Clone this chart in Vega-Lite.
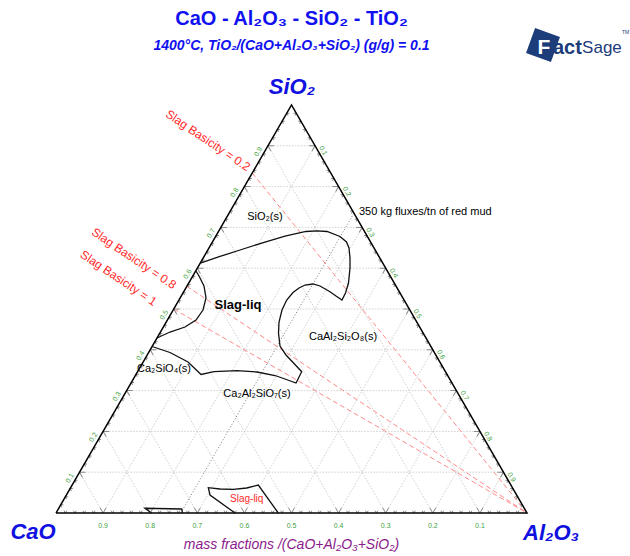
{
  "$schema": "https://vega.github.io/schema/vega-lite/v6.json",
  "width": 471,
  "height": 408,
  "autosize": "none",
  "padding": {"left": 56, "top": 105, "right": 103, "bottom": 43},
  "background": "white",
  "config": {"view": {"stroke": null}, "font": "Liberation Sans"},
  "datasets": {
    "grid": [
      {"x": 0.05, "y": 0.1, "x2": 0.95, "y2": 0.1},
      {"x": 0.1, "y": 0.2, "x2": 0.9, "y2": 0.2},
      {"x": 0.15, "y": 0.3, "x2": 0.85, "y2": 0.3},
      {"x": 0.2, "y": 0.4, "x2": 0.8, "y2": 0.4},
      {"x": 0.25, "y": 0.5, "x2": 0.75, "y2": 0.5},
      {"x": 0.3, "y": 0.6, "x2": 0.7, "y2": 0.6},
      {"x": 0.35, "y": 0.7, "x2": 0.65, "y2": 0.7},
      {"x": 0.4, "y": 0.8, "x2": 0.6, "y2": 0.8},
      {"x": 0.45, "y": 0.9, "x2": 0.55, "y2": 0.9},
      {"x": 0.1, "y": 0, "x2": 0.05, "y2": 0.1},
      {"x": 0.2, "y": 0, "x2": 0.1, "y2": 0.2},
      {"x": 0.3, "y": 0, "x2": 0.15, "y2": 0.3},
      {"x": 0.4, "y": 0, "x2": 0.2, "y2": 0.4},
      {"x": 0.5, "y": 0, "x2": 0.25, "y2": 0.5},
      {"x": 0.6, "y": 0, "x2": 0.3, "y2": 0.6},
      {"x": 0.7, "y": 0, "x2": 0.35, "y2": 0.7},
      {"x": 0.8, "y": 0, "x2": 0.4, "y2": 0.8},
      {"x": 0.9, "y": 0, "x2": 0.45, "y2": 0.9},
      {"x": 0.1, "y": 0, "x2": 0.55, "y2": 0.9},
      {"x": 0.2, "y": 0, "x2": 0.6, "y2": 0.8},
      {"x": 0.3, "y": 0, "x2": 0.65, "y2": 0.7},
      {"x": 0.4, "y": 0, "x2": 0.7, "y2": 0.6},
      {"x": 0.5, "y": 0, "x2": 0.75, "y2": 0.5},
      {"x": 0.6, "y": 0, "x2": 0.8, "y2": 0.4},
      {"x": 0.7, "y": 0, "x2": 0.85, "y2": 0.3},
      {"x": 0.8, "y": 0, "x2": 0.9, "y2": 0.2},
      {"x": 0.9, "y": 0, "x2": 0.95, "y2": 0.1}
    ],
    "basicity": [
      {"b": "0.2", "x": 0.4167, "y": 0.8333},
      {"b": "0.8", "x": 0.2778, "y": 0.5556},
      {"b": "1", "x": 0.25, "y": 0.5}
    ],
    "boundaries": [
      {"c": "liq", "i": 1, "x": 0.3064, "y": 0.6127},
      {"c": "liq", "i": 2, "x": 0.3482, "y": 0.6287},
      {"c": "liq", "i": 3, "x": 0.3907, "y": 0.6446},
      {"c": "liq", "i": 4, "x": 0.4437, "y": 0.6642},
      {"c": "liq", "i": 5, "x": 0.4862, "y": 0.6789},
      {"c": "liq", "i": 6, "x": 0.5308, "y": 0.6900},
      {"c": "liq", "i": 7, "x": 0.5541, "y": 0.6917},
      {"c": "liq", "i": 8, "x": 0.5754, "y": 0.6900},
      {"c": "liq", "i": 9, "x": 0.6030, "y": 0.6777},
      {"c": "liq", "i": 10, "x": 0.6168, "y": 0.6642},
      {"c": "liq", "i": 11, "x": 0.6221, "y": 0.6495},
      {"c": "liq", "i": 12, "x": 0.6242, "y": 0.6250},
      {"c": "liq", "i": 13, "x": 0.6242, "y": 0.6005},
      {"c": "liq", "i": 14, "x": 0.6210, "y": 0.5637},
      {"c": "liq", "i": 15, "x": 0.6146, "y": 0.5392},
      {"c": "liq", "i": 16, "x": 0.6072, "y": 0.5221},
      {"c": "liq", "i": 17, "x": 0.5945, "y": 0.5319},
      {"c": "liq", "i": 18, "x": 0.5817, "y": 0.5424},
      {"c": "liq", "i": 19, "x": 0.5605, "y": 0.5564},
      {"c": "liq", "i": 20, "x": 0.5456, "y": 0.5613},
      {"c": "liq", "i": 21, "x": 0.5287, "y": 0.5588},
      {"c": "liq", "i": 22, "x": 0.5159, "y": 0.5515},
      {"c": "liq", "i": 23, "x": 0.5032, "y": 0.5404},
      {"c": "liq", "i": 24, "x": 0.4898, "y": 0.5221},
      {"c": "liq", "i": 25, "x": 0.4798, "y": 0.4975},
      {"c": "liq", "i": 26, "x": 0.4735, "y": 0.4681},
      {"c": "liq", "i": 27, "x": 0.4724, "y": 0.4412},
      {"c": "liq", "i": 28, "x": 0.4756, "y": 0.4093},
      {"c": "liq", "i": 29, "x": 0.4883, "y": 0.3873},
      {"c": "liq", "i": 30, "x": 0.5053, "y": 0.3664},
      {"c": "liq", "i": 31, "x": 0.5217, "y": 0.3463},
      {"c": "liq", "i": 32, "x": 0.5096, "y": 0.3186},
      {"c": "liq", "i": 33, "x": 0.4862, "y": 0.3284},
      {"c": "liq", "i": 34, "x": 0.4650, "y": 0.3370},
      {"c": "liq", "i": 35, "x": 0.4268, "y": 0.3456},
      {"c": "liq", "i": 36, "x": 0.3843, "y": 0.3488},
      {"c": "liq", "i": 37, "x": 0.3355, "y": 0.3463},
      {"c": "liq", "i": 38, "x": 0.3079, "y": 0.3395},
      {"c": "liq", "i": 39, "x": 0.2803, "y": 0.3701},
      {"c": "liq", "i": 40, "x": 0.2420, "y": 0.3934},
      {"c": "liq", "i": 41, "x": 0.2040, "y": 0.4081},
      {"c": "pocket", "i": 1, "x": 0.2144, "y": 0.4289},
      {"c": "pocket", "i": 2, "x": 0.2420, "y": 0.4436},
      {"c": "pocket", "i": 3, "x": 0.2739, "y": 0.4559},
      {"c": "pocket", "i": 4, "x": 0.2972, "y": 0.4730},
      {"c": "pocket", "i": 5, "x": 0.3121, "y": 0.4975},
      {"c": "pocket", "i": 6, "x": 0.3185, "y": 0.5270},
      {"c": "pocket", "i": 7, "x": 0.3142, "y": 0.5564},
      {"c": "pocket", "i": 8, "x": 0.3036, "y": 0.5809},
      {"c": "pocket", "i": 9, "x": 0.2972, "y": 0.5931},
      {"c": "lowliq", "i": 1, "x": 0.3800, "y": 0},
      {"c": "lowliq", "i": 2, "x": 0.3270, "y": 0.0441},
      {"c": "lowliq", "i": 3, "x": 0.3234, "y": 0.0620},
      {"c": "lowliq", "i": 4, "x": 0.3482, "y": 0.0588},
      {"c": "lowliq", "i": 5, "x": 0.3764, "y": 0.0581},
      {"c": "lowliq", "i": 6, "x": 0.4049, "y": 0.0613},
      {"c": "lowliq", "i": 7, "x": 0.4295, "y": 0.0686},
      {"c": "lowliq", "i": 8, "x": 0.4720, "y": 0},
      {"c": "sliver", "i": 1, "x": 0.2028, "y": 0},
      {"c": "sliver", "i": 2, "x": 0.1890, "y": 0.0115},
      {"c": "sliver", "i": 3, "x": 0.2669, "y": 0.0098},
      {"c": "sliver", "i": 4, "x": 0.2686, "y": 0}
    ],
    "ticksBottom": [
      {"x": 0.02, "y": 0, "t": "minor"}, {"x": 0.04, "y": 0, "t": "minor"}, {"x": 0.06, "y": 0, "t": "minor"}, {"x": 0.08, "y": 0, "t": "minor"}, {"x": 0.1, "y": 0, "t": "major"},
      {"x": 0.12, "y": 0, "t": "minor"}, {"x": 0.14, "y": 0, "t": "minor"}, {"x": 0.16, "y": 0, "t": "minor"}, {"x": 0.18, "y": 0, "t": "minor"}, {"x": 0.2, "y": 0, "t": "major"},
      {"x": 0.22, "y": 0, "t": "minor"}, {"x": 0.24, "y": 0, "t": "minor"}, {"x": 0.26, "y": 0, "t": "minor"}, {"x": 0.28, "y": 0, "t": "minor"}, {"x": 0.3, "y": 0, "t": "major"},
      {"x": 0.32, "y": 0, "t": "minor"}, {"x": 0.34, "y": 0, "t": "minor"}, {"x": 0.36, "y": 0, "t": "minor"}, {"x": 0.38, "y": 0, "t": "minor"}, {"x": 0.4, "y": 0, "t": "major"},
      {"x": 0.42, "y": 0, "t": "minor"}, {"x": 0.44, "y": 0, "t": "minor"}, {"x": 0.46, "y": 0, "t": "minor"}, {"x": 0.48, "y": 0, "t": "minor"}, {"x": 0.5, "y": 0, "t": "major"},
      {"x": 0.52, "y": 0, "t": "minor"}, {"x": 0.54, "y": 0, "t": "minor"}, {"x": 0.56, "y": 0, "t": "minor"}, {"x": 0.58, "y": 0, "t": "minor"}, {"x": 0.6, "y": 0, "t": "major"},
      {"x": 0.62, "y": 0, "t": "minor"}, {"x": 0.64, "y": 0, "t": "minor"}, {"x": 0.66, "y": 0, "t": "minor"}, {"x": 0.68, "y": 0, "t": "minor"}, {"x": 0.7, "y": 0, "t": "major"},
      {"x": 0.72, "y": 0, "t": "minor"}, {"x": 0.74, "y": 0, "t": "minor"}, {"x": 0.76, "y": 0, "t": "minor"}, {"x": 0.78, "y": 0, "t": "minor"}, {"x": 0.8, "y": 0, "t": "major"},
      {"x": 0.82, "y": 0, "t": "minor"}, {"x": 0.84, "y": 0, "t": "minor"}, {"x": 0.86, "y": 0, "t": "minor"}, {"x": 0.88, "y": 0, "t": "minor"}, {"x": 0.9, "y": 0, "t": "major"},
      {"x": 0.92, "y": 0, "t": "minor"}, {"x": 0.94, "y": 0, "t": "minor"}, {"x": 0.96, "y": 0, "t": "minor"}, {"x": 0.98, "y": 0, "t": "minor"}
    ],
    "ticksLeft": [
      {"x": 0.01, "y": 0.02, "t": "minor"}, {"x": 0.02, "y": 0.04, "t": "minor"}, {"x": 0.03, "y": 0.06, "t": "minor"}, {"x": 0.04, "y": 0.08, "t": "minor"}, {"x": 0.05, "y": 0.1, "t": "major"},
      {"x": 0.06, "y": 0.12, "t": "minor"}, {"x": 0.07, "y": 0.14, "t": "minor"}, {"x": 0.08, "y": 0.16, "t": "minor"}, {"x": 0.09, "y": 0.18, "t": "minor"}, {"x": 0.1, "y": 0.2, "t": "major"},
      {"x": 0.11, "y": 0.22, "t": "minor"}, {"x": 0.12, "y": 0.24, "t": "minor"}, {"x": 0.13, "y": 0.26, "t": "minor"}, {"x": 0.14, "y": 0.28, "t": "minor"}, {"x": 0.15, "y": 0.3, "t": "major"},
      {"x": 0.16, "y": 0.32, "t": "minor"}, {"x": 0.17, "y": 0.34, "t": "minor"}, {"x": 0.18, "y": 0.36, "t": "minor"}, {"x": 0.19, "y": 0.38, "t": "minor"}, {"x": 0.2, "y": 0.4, "t": "major"},
      {"x": 0.21, "y": 0.42, "t": "minor"}, {"x": 0.22, "y": 0.44, "t": "minor"}, {"x": 0.23, "y": 0.46, "t": "minor"}, {"x": 0.24, "y": 0.48, "t": "minor"}, {"x": 0.25, "y": 0.5, "t": "major"},
      {"x": 0.26, "y": 0.52, "t": "minor"}, {"x": 0.27, "y": 0.54, "t": "minor"}, {"x": 0.28, "y": 0.56, "t": "minor"}, {"x": 0.29, "y": 0.58, "t": "minor"}, {"x": 0.3, "y": 0.6, "t": "major"},
      {"x": 0.31, "y": 0.62, "t": "minor"}, {"x": 0.32, "y": 0.64, "t": "minor"}, {"x": 0.33, "y": 0.66, "t": "minor"}, {"x": 0.34, "y": 0.68, "t": "minor"}, {"x": 0.35, "y": 0.7, "t": "major"},
      {"x": 0.36, "y": 0.72, "t": "minor"}, {"x": 0.37, "y": 0.74, "t": "minor"}, {"x": 0.38, "y": 0.76, "t": "minor"}, {"x": 0.39, "y": 0.78, "t": "minor"}, {"x": 0.4, "y": 0.8, "t": "major"},
      {"x": 0.41, "y": 0.82, "t": "minor"}, {"x": 0.42, "y": 0.84, "t": "minor"}, {"x": 0.43, "y": 0.86, "t": "minor"}, {"x": 0.44, "y": 0.88, "t": "minor"}, {"x": 0.45, "y": 0.9, "t": "major"},
      {"x": 0.46, "y": 0.92, "t": "minor"}, {"x": 0.47, "y": 0.94, "t": "minor"}, {"x": 0.48, "y": 0.96, "t": "minor"}, {"x": 0.49, "y": 0.98, "t": "minor"}
    ],
    "ticksRight": [
      {"x": 0.51, "y": 0.98, "t": "minor"}, {"x": 0.52, "y": 0.96, "t": "minor"}, {"x": 0.53, "y": 0.94, "t": "minor"}, {"x": 0.54, "y": 0.92, "t": "minor"}, {"x": 0.55, "y": 0.9, "t": "major"},
      {"x": 0.56, "y": 0.88, "t": "minor"}, {"x": 0.57, "y": 0.86, "t": "minor"}, {"x": 0.58, "y": 0.84, "t": "minor"}, {"x": 0.59, "y": 0.82, "t": "minor"}, {"x": 0.6, "y": 0.8, "t": "major"},
      {"x": 0.61, "y": 0.78, "t": "minor"}, {"x": 0.62, "y": 0.76, "t": "minor"}, {"x": 0.63, "y": 0.74, "t": "minor"}, {"x": 0.64, "y": 0.72, "t": "minor"}, {"x": 0.65, "y": 0.7, "t": "major"},
      {"x": 0.66, "y": 0.68, "t": "minor"}, {"x": 0.67, "y": 0.66, "t": "minor"}, {"x": 0.68, "y": 0.64, "t": "minor"}, {"x": 0.69, "y": 0.62, "t": "minor"}, {"x": 0.7, "y": 0.6, "t": "major"},
      {"x": 0.71, "y": 0.58, "t": "minor"}, {"x": 0.72, "y": 0.56, "t": "minor"}, {"x": 0.73, "y": 0.54, "t": "minor"}, {"x": 0.74, "y": 0.52, "t": "minor"}, {"x": 0.75, "y": 0.5, "t": "major"},
      {"x": 0.76, "y": 0.48, "t": "minor"}, {"x": 0.77, "y": 0.46, "t": "minor"}, {"x": 0.78, "y": 0.44, "t": "minor"}, {"x": 0.79, "y": 0.42, "t": "minor"}, {"x": 0.8, "y": 0.4, "t": "major"},
      {"x": 0.81, "y": 0.38, "t": "minor"}, {"x": 0.82, "y": 0.36, "t": "minor"}, {"x": 0.83, "y": 0.34, "t": "minor"}, {"x": 0.84, "y": 0.32, "t": "minor"}, {"x": 0.85, "y": 0.3, "t": "major"},
      {"x": 0.86, "y": 0.28, "t": "minor"}, {"x": 0.87, "y": 0.26, "t": "minor"}, {"x": 0.88, "y": 0.24, "t": "minor"}, {"x": 0.89, "y": 0.22, "t": "minor"}, {"x": 0.9, "y": 0.2, "t": "major"},
      {"x": 0.91, "y": 0.18, "t": "minor"}, {"x": 0.92, "y": 0.16, "t": "minor"}, {"x": 0.93, "y": 0.14, "t": "minor"}, {"x": 0.94, "y": 0.12, "t": "minor"}, {"x": 0.95, "y": 0.1, "t": "major"},
      {"x": 0.96, "y": 0.08, "t": "minor"}, {"x": 0.97, "y": 0.06, "t": "minor"}, {"x": 0.98, "y": 0.04, "t": "minor"}, {"x": 0.99, "y": 0.02, "t": "minor"}
    ],
    "labelsBottom": [
      {"x": 0.1, "y": 0, "v": "0.9"}, {"x": 0.2, "y": 0, "v": "0.8"}, {"x": 0.3, "y": 0, "v": "0.7"},
      {"x": 0.4, "y": 0, "v": "0.6"}, {"x": 0.5, "y": 0, "v": "0.5"}, {"x": 0.6, "y": 0, "v": "0.4"},
      {"x": 0.7, "y": 0, "v": "0.3"}, {"x": 0.8, "y": 0, "v": "0.2"}, {"x": 0.9, "y": 0, "v": "0.1"}
    ],
    "labelsLeft": [
      {"x": 0.05, "y": 0.1, "v": "0.1"}, {"x": 0.1, "y": 0.2, "v": "0.2"}, {"x": 0.15, "y": 0.3, "v": "0.3"},
      {"x": 0.2, "y": 0.4, "v": "0.4"}, {"x": 0.25, "y": 0.5, "v": "0.5"}, {"x": 0.3, "y": 0.6, "v": "0.6"},
      {"x": 0.35, "y": 0.7, "v": "0.7"}, {"x": 0.4, "y": 0.8, "v": "0.8"}, {"x": 0.45, "y": 0.9, "v": "0.9"}
    ],
    "labelsRight": [
      {"x": 0.55, "y": 0.9, "v": "0.1"}, {"x": 0.6, "y": 0.8, "v": "0.2"}, {"x": 0.65, "y": 0.7, "v": "0.3"},
      {"x": 0.7, "y": 0.6, "v": "0.4"}, {"x": 0.75, "y": 0.5, "v": "0.5"}, {"x": 0.8, "y": 0.4, "v": "0.6"},
      {"x": 0.85, "y": 0.3, "v": "0.7"}, {"x": 0.9, "y": 0.2, "v": "0.8"}, {"x": 0.95, "y": 0.1, "v": "0.9"}
    ]
  },
  "encoding": {
    "x": {"field": "x", "type": "quantitative", "scale": {"domain": [0, 1], "nice": false, "zero": false}, "axis": null},
    "y": {"field": "y", "type": "quantitative", "scale": {"domain": [0, 1], "nice": false, "zero": false}, "axis": null}
  },
  "layer": [
    {
      "data": {"name": "grid"},
      "mark": {"type": "rule", "stroke": "#c4c4c4", "strokeWidth": 0.8, "strokeDash": [1.5, 1.5]},
      "encoding": {"x2": {"field": "x2"}, "y2": {"field": "y2"}}
    },
    {
      "data": {"name": "basicity"},
      "mark": {"type": "rule", "stroke": "#ff8a8a", "strokeWidth": 1, "strokeDash": [5, 3]},
      "encoding": {"x2": {"datum": 1}, "y2": {"datum": 0}}
    },
    {
      "data": {"values": [{"x": 0.265, "y": 0, "x2": 0.6325, "y2": 0.735}]},
      "mark": {"type": "rule", "stroke": "#555555", "strokeWidth": 0.8, "strokeDash": [1, 2]},
      "encoding": {"x2": {"field": "x2"}, "y2": {"field": "y2"}}
    },
    {
      "data": {"name": "ticksBottom"},
      "mark": {"type": "point", "shape": "M -0.5 -0.866 L 0 0 L 0.5 -0.866", "filled": false, "stroke": "#8c8c8c", "strokeWidth": 1, "opacity": 1, "angle": 0},
      "encoding": {"size": {"field": "t", "type": "nominal", "scale": {"domain": ["major", "minor"], "range": [144, 30]}, "legend": null}}
    },
    {
      "data": {"name": "ticksLeft"},
      "mark": {"type": "point", "shape": "M -0.5 -0.866 L 0 0 L 0.5 -0.866", "filled": false, "stroke": "#8c8c8c", "strokeWidth": 1, "opacity": 1, "angle": 120},
      "encoding": {"size": {"field": "t", "type": "nominal", "scale": {"domain": ["major", "minor"], "range": [144, 30]}, "legend": null}}
    },
    {
      "data": {"name": "ticksRight"},
      "mark": {"type": "point", "shape": "M -0.5 -0.866 L 0 0 L 0.5 -0.866", "filled": false, "stroke": "#8c8c8c", "strokeWidth": 1, "opacity": 1, "angle": 240},
      "encoding": {"size": {"field": "t", "type": "nominal", "scale": {"domain": ["major", "minor"], "range": [144, 30]}, "legend": null}}
    },
    {
      "data": {"values": [
        {"i": 1, "x": 0, "y": 0},
        {"i": 2, "x": 1, "y": 0},
        {"i": 3, "x": 0.5, "y": 1},
        {"i": 4, "x": 0, "y": 0}
      ]},
      "mark": {"type": "line", "stroke": "#000000", "strokeWidth": 1.5, "strokeJoin": "miter"},
      "encoding": {"order": {"field": "i", "type": "quantitative"}}
    },
    {
      "data": {"name": "boundaries"},
      "mark": {"type": "line", "stroke": "#111111", "strokeWidth": 1.3, "interpolate": "linear"},
      "encoding": {
        "detail": {"field": "c", "type": "nominal"},
        "order": {"field": "i", "type": "quantitative"}
      }
    },
    {
      "data": {"name": "labelsBottom"},
      "mark": {"type": "text", "fontSize": 7, "color": "#3f9f3f", "align": "center", "baseline": "middle", "dy": 13},
      "encoding": {"text": {"field": "v"}}
    },
    {
      "data": {"name": "labelsLeft"},
      "mark": {"type": "text", "fontSize": 7, "color": "#3f9f3f", "align": "center", "baseline": "middle", "angle": 300, "dx": -10, "dy": -5.3},
      "encoding": {"text": {"field": "v"}}
    },
    {
      "data": {"name": "labelsRight"},
      "mark": {"type": "text", "fontSize": 7, "color": "#3f9f3f", "align": "center", "baseline": "middle", "angle": 60, "dx": 8.3, "dy": -4.5},
      "encoding": {"text": {"field": "v"}}
    },
    {
      "data": {"values": [
        {"x": 0.3227, "y": 0.9130, "t": "Slag Basicity = 0.2"},
        {"x": 0.1656, "y": 0.6238, "t": "Slag Basicity = 0.8"},
        {"x": 0.1327, "y": 0.5760, "t": "Slag Basicity = 1"}
      ]},
      "mark": {"type": "text", "fontSize": 12, "color": "#ff2a2a", "align": "center", "baseline": "middle", "angle": 34},
      "encoding": {"text": {"field": "t"}}
    },
    {
      "data": {"values": [
        {"x": 0.4437, "y": 0.7255, "t": "SiO₂(s)"},
        {"x": 0.6093, "y": 0.4314, "t": "CaAl₂Si₂O₈(s)"},
        {"x": 0.2293, "y": 0.3529, "t": "Ca₂SiO₄(s)"},
        {"x": 0.4268, "y": 0.2917, "t": "Ca₂Al₂SiO₇(s)"}
      ]},
      "mark": {"type": "text", "fontSize": 11, "color": "#000000", "align": "center", "baseline": "middle"},
      "encoding": {"text": {"field": "t"}}
    },
    {
      "data": {"values": [{"x": 0.3864, "y": 0.5098, "t": "Slag-liq"}]},
      "mark": {"type": "text", "fontSize": 13, "fontWeight": "bold", "color": "#000000", "align": "center", "baseline": "middle"},
      "encoding": {"text": {"field": "t"}}
    },
    {
      "data": {"values": [{"x": 0.4049, "y": 0.0336, "t": "Slag-liq"}]},
      "mark": {"type": "text", "fontSize": 10, "color": "#ff2a2a", "align": "center", "baseline": "middle"},
      "encoding": {"text": {"field": "t"}}
    },
    {
      "data": {"values": [{"x": 0.6433, "y": 0.7385, "t": "350 kg fluxes/tn of red mud"}]},
      "mark": {"type": "text", "fontSize": 11, "color": "#000000", "align": "left", "baseline": "middle"},
      "encoding": {"text": {"field": "t"}}
    },
    {
      "data": {"values": [{"x": 0.5, "y": 1.2108, "t": "CaO - Al₂O₃ - SiO₂ - TiO₂"}]},
      "mark": {"type": "text", "fontSize": 20, "fontWeight": "bold", "color": "#1010f0", "align": "center", "baseline": "middle"},
      "encoding": {"text": {"field": "t"}}
    },
    {
      "data": {"values": [{"x": 0.5, "y": 1.1446, "t": "1400°C,  TiO₂/(CaO+Al₂O₃+SiO₂) (g/g)  = 0.1"}]},
      "mark": {"type": "text", "fontSize": 14, "fontWeight": "bold", "fontStyle": "italic", "color": "#1010f0", "align": "center", "baseline": "middle"},
      "encoding": {"text": {"field": "t"}}
    },
    {
      "data": {"values": [
        {"x": 0.501, "y": 1.0441, "t": "SiO₂"},
        {"x": -0.0488, "y": -0.0466, "t": "CaO"},
        {"x": 1.051, "y": -0.049, "t": "Al₂O₃"}
      ]},
      "mark": {"type": "text", "fontSize": 22, "fontWeight": "bold", "fontStyle": "italic", "color": "#1010e0", "align": "center", "baseline": "middle"},
      "encoding": {"text": {"field": "t"}}
    },
    {
      "data": {"values": [{"x": 0.5, "y": -0.0784, "t": "mass fractions /(CaO+Al₂O₃+SiO₂)"}]},
      "mark": {"type": "text", "fontSize": 14, "fontStyle": "italic", "color": "#8b1a8b", "align": "center", "baseline": "middle"},
      "encoding": {"text": {"field": "t"}}
    },
    {
      "data": {"values": [{"x": 1.034, "y": 1.147}]},
      "mark": {"type": "point", "shape": "square", "filled": true, "color": "#1d3c7a", "opacity": 1, "size": 700, "angle": 20}
    },
    {
      "data": {"values": [{"x": 1.0361, "y": 1.1397, "t": "F"}]},
      "mark": {"type": "text", "fontSize": 21, "fontWeight": "bold", "color": "#ffffff", "align": "center", "baseline": "middle"},
      "encoding": {"text": {"field": "t"}}
    },
    {
      "data": {"values": [{"x": 1.0552, "y": 1.1397, "t": "act"}]},
      "mark": {"type": "text", "fontSize": 20, "fontWeight": "bold", "color": "#1d3c7a", "align": "left", "baseline": "middle"},
      "encoding": {"text": {"field": "t"}}
    },
    {
      "data": {"values": [{"x": 1.117, "y": 1.1397, "t": "Sage"}]},
      "mark": {"type": "text", "fontSize": 17, "color": "#1d3c7a", "align": "left", "baseline": "middle"},
      "encoding": {"text": {"field": "t"}}
    },
    {
      "data": {"values": [{"x": 1.2017, "y": 1.18, "t": "TM"}]},
      "mark": {"type": "text", "fontSize": 5, "color": "#1d3c7a", "align": "left", "baseline": "middle"},
      "encoding": {"text": {"field": "t"}}
    }
  ]
}
